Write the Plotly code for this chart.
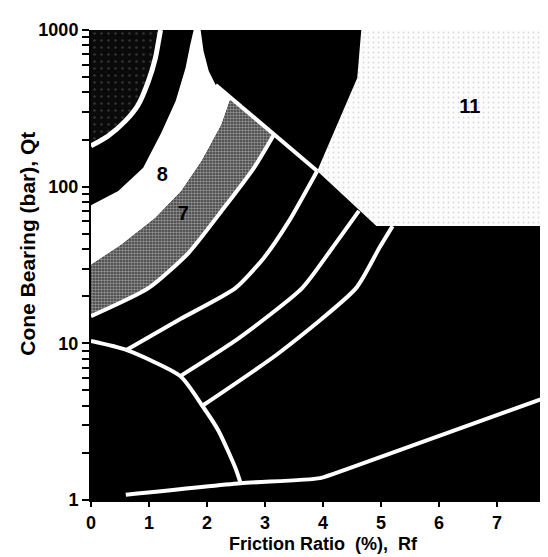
import plotly.graph_objects as go

# ---- data: Robertson et al. (1986) soil-behaviour-type chart boundaries ----
# Friction ratio Rf (%) and cone bearing Qt (bar)
z10_rf = [0, 0.29, 0.59, 0.81, 0.99, 1.11, 1.19, 1.20]
z10_qt = [182, 210, 262, 331, 472, 662, 958, 1000]

z8_top_rf = [0, 0.47, 0.90, 1.21, 1.46, 1.63, 1.71, 1.77]
z8_top_qt = [76, 94, 132, 220, 352, 572, 802, 1000]

cusp_rf = [1.89, 1.94, 2.03, 2.15]
cusp_qt = [1000, 734, 547, 446]

z7_top_rf = [0, 0.52, 1.11, 1.56, 1.91, 2.25, 2.41]
z7_top_qt = [31.6, 42.5, 63, 94, 146, 248, 368]

b76_rf = [0, 0.99, 1.68, 2.29, 2.81, 3.15]
b76_qt = [14.9, 22.5, 37.7, 73, 132, 214]

b65_rf = [0.61, 1.51, 2.49, 2.98, 3.41, 3.90]
b65_qt = [9.07, 14.1, 22.5, 35.1, 60, 126]

b54_rf = [1.54, 2.55, 3.64, 4.16, 4.62]
b54_qt = [6.18, 10.8, 22.5, 40.6, 70]

b43_rf = [1.94, 3.24, 4.57, 4.97, 5.20]
b43_qt = [4.04, 8.68, 22.5, 40.6, 56]

line12_rf = [2.15, 3.90]
line12_qt = [446, 126]

z1_rf = [0, 0.61, 1.54, 1.91, 2.20, 2.49, 2.58]
z1_qt = [10.35, 9.07, 6.18, 4.04, 2.76, 1.6, 1.28]

z2_rf = [0.6, 2.58, 3.95, 4.4, 8.0]
z2_qt = [1.08, 1.28, 1.38, 1.57, 4.74]

z11_rf = [4.66, 8, 8, 4.92, 3.90, 4.59]
z11_qt = [1000, 1000, 56, 56, 126, 494]

zone_labels = ["8", "7", "11"]
label_rf = [1.23, 1.59, 6.53]
label_qt = [117, 66, 318]

x_ticks = [0, 1, 2, 3, 4, 5, 6, 7, 8]
y_ticks = [m * 10 ** d for d in range(3) for m in range(1, 10)] + [1000]
y_text = [str(v) if v in (1, 10, 100, 1000) else "" for v in y_ticks]

FONT = "Liberation Sans Narrow, Arial Narrow, Liberation Sans, Arial"

fig = go.Figure()

# zone 10 (dark stipple)
fig.add_trace(go.Scatter(
    x=z10_rf + [0], y=z10_qt + [1000], fill="toself", mode="none",
    fillcolor="#111111",
    fillpattern=dict(shape=".", bgcolor="#0a0a0a", fgcolor="#5a5a5a", size=7, solidity=0.12),
    hoverinfo="skip"))

# zone 8 (white)
fig.add_trace(go.Scatter(
    x=z8_top_rf + cusp_rf + z7_top_rf[::-1],
    y=z8_top_qt + cusp_qt + z7_top_qt[::-1],
    fill="toself", mode="none", fillcolor="white", hoverinfo="skip"))

# zone 7 (grey stipple)
fig.add_trace(go.Scatter(
    x=z7_top_rf + b76_rf[::-1], y=z7_top_qt + b76_qt[::-1],
    fill="toself", mode="none", fillcolor="#8a8a8a",
    fillpattern=dict(shape=".", bgcolor="#3a3a3a", fgcolor="#e8e8e8", size=3, solidity=0.55),
    hoverinfo="skip"))

# zone 11 (light stipple)
fig.add_trace(go.Scatter(
    x=z11_rf, y=z11_qt, fill="toself", mode="none", fillcolor="#f7f7f7",
    fillpattern=dict(shape=".", bgcolor="#fcfcfc", fgcolor="#b4b4b4", size=5, solidity=0.1),
    hoverinfo="skip"))

# white boundary lines
for xs, ys, w in [(z10_rf, z10_qt, 5), (b76_rf, b76_qt, 4), (b65_rf, b65_qt, 4),
                  (b54_rf, b54_qt, 4), (b43_rf, b43_qt, 4), (line12_rf, line12_qt, 4),
                  (z1_rf, z1_qt, 4), (z2_rf, z2_qt, 4)]:
    fig.add_trace(go.Scatter(x=xs, y=ys, mode="lines",
                             line=dict(color="white", width=w, shape="spline", smoothing=0.6),
                             hoverinfo="skip"))

# zone numbers
fig.add_trace(go.Scatter(x=label_rf, y=label_qt, mode="text", text=zone_labels,
                         textfont=dict(family=FONT, size=20, color="black", weight="bold"),
                         hoverinfo="skip"))

# invisible trace for right-hand mirrored log ticks
fig.add_trace(go.Scatter(x=[0], y=[1], yaxis="y2", mode="markers",
                         marker=dict(opacity=0), hoverinfo="skip"))

fig.add_annotation(
    text="Cone Bearing (bar), Qt", textangle=-90, showarrow=False,
    xref="paper", yref="paper", x=-0.136, y=0.545, xanchor="center", yanchor="middle",
    font=dict(family=FONT, size=21, color="black", weight="bold"))

fig.update_layout(
    width=548, height=557,
    margin=dict(l=83, r=1, t=22, b=65, autoexpand=False),
    paper_bgcolor="white", plot_bgcolor="black",
    showlegend=False,
    xaxis=dict(range=[0, 8], tickvals=x_ticks, ticks="outside", ticklen=5, tickwidth=2,
               tickcolor="black", showgrid=False, zeroline=False, showline=True,
               linecolor="black", linewidth=2, automargin=False, ticklabeloverflow="allow",
               tickfont=dict(family=FONT, size=18, color="black", weight="bold"),
               title=dict(text="Friction Ratio  (%),  Rf", standoff=6,
                          font=dict(family=FONT, size=18, color="black", weight="bold"))),
    yaxis=dict(type="log", range=[0, 3], tickvals=y_ticks, ticktext=y_text,
               ticks="outside", ticklen=7, tickwidth=2, tickcolor="black",
               showgrid=False, zeroline=False, showline=True, linecolor="black", linewidth=2,
               automargin=False, ticklabeloverflow="allow",
               tickfont=dict(family=FONT, size=18, color="black", weight="bold")),
    yaxis2=dict(type="log", range=[0, 3], overlaying="y", side="right", tickvals=y_ticks,
                ticks="inside", ticklen=6, tickwidth=2, tickcolor="black",
                showticklabels=False, showgrid=False, zeroline=False, showline=False,
                automargin=False),
)

fig.write_html("out.html")
